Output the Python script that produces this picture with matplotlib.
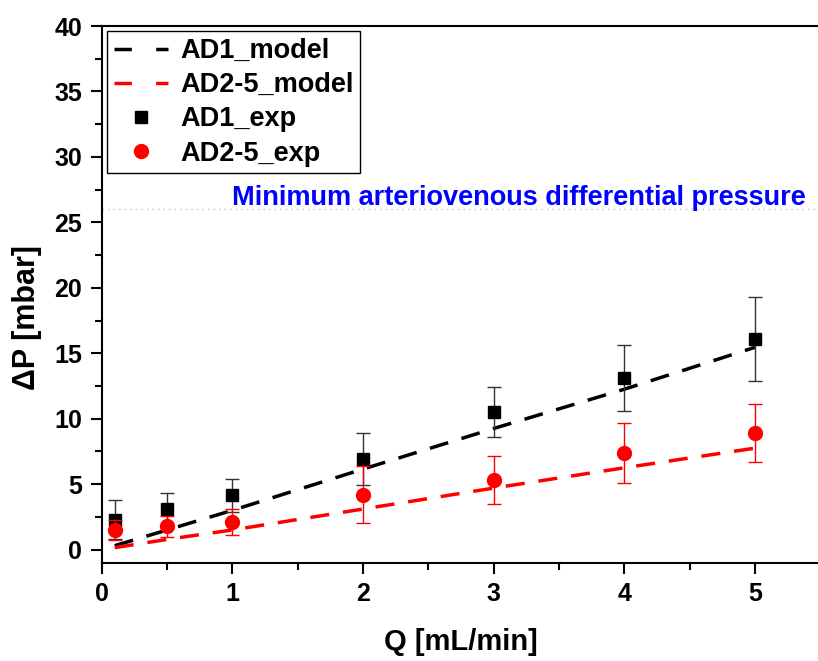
"""AD1 / AD2-5 压降 vs 流量：模型虚线 + 实验点（误差棒）。"""
import numpy as np
import matplotlib
matplotlib.use("Agg")
import matplotlib.pyplot as plt
from matplotlib.ticker import MultipleLocator
from matplotlib.lines import Line2D

plt.rcParams["font.family"] = ["Liberation Sans", "DejaVu Sans"]
plt.rcParams["font.weight"] = "bold"

# 流量 [mL/min]
Q = [0.1, 0.5, 1, 2, 3, 4, 5]

# 模型
ad1_model = [0.3, 1.5, 3.0, 6.15, 9.25, 12.25, 15.45]
ad25_model = [0.15, 0.78, 1.5, 3.1, 4.7, 6.25, 7.75]

# 实验
ad1_exp = [2.3, 3.1, 4.15, 6.9, 10.5, 13.1, 16.1]
ad1_err = [1.5, 1.2, 1.25, 2.0, 1.9, 2.5, 3.2]
ad25_exp = [1.5, 1.8, 2.1, 4.2, 5.3, 7.4, 8.9]
ad25_err = [0.8, 0.8, 1.0, 2.2, 1.85, 2.3, 2.2]

MIN_AV = 26.0   # 最小动静脉压差 [mbar]

W, H = 818, 661
fig = plt.figure(figsize=(W / 100, H / 100), dpi=100)
ax = fig.add_axes([101.7 / W, 1 - 562.7 / H, 718.5 / W, 536.7 / H])

dash = (0, (5.5, 4))
ax.plot(Q, ad1_model, color="black", lw=2.5, linestyle=dash, zorder=3)
ax.plot(Q, ad25_model, color="red", lw=2.5, linestyle=dash, zorder=3)
ax.errorbar(Q, ad1_exp, yerr=ad1_err, fmt="s", color="black", ms=9,
            ecolor="#333333", elinewidth=1, capsize=5, capthick=1, zorder=4)
ax.errorbar(Q, ad25_exp, yerr=ad25_err, fmt="o", color="red", ms=10,
            ecolor="red", elinewidth=1, capsize=5, capthick=1, zorder=5)

ax.axhline(MIN_AV, color="#b8b8f0", lw=1, linestyle=(0, (1, 3)), zorder=1)
ax.text(0.995, MIN_AV + 0.33, "Minimum arteriovenous differential pressure",
        color="blue", fontsize=19.5, fontweight="bold", va="baseline", ha="left")

ax.set_xlim(0, 5.5)
ax.set_ylim(-1, 40)
ax.xaxis.set_major_locator(MultipleLocator(1))
ax.xaxis.set_minor_locator(MultipleLocator(0.5))
ax.yaxis.set_major_locator(MultipleLocator(5))
ax.yaxis.set_minor_locator(MultipleLocator(2.5))
ax.tick_params(which="major", direction="out", length=8, width=1.5, labelsize=18, pad=6)
ax.tick_params(which="minor", direction="out", length=5, width=1.5)
ax.spines["right"].set_visible(False)
for s in ("left", "bottom", "top"):
    ax.spines[s].set_linewidth(1.5)

ax.set_xlabel("Q [mL/min]", fontsize=21, fontweight="bold", labelpad=16)
ax.set_ylabel("ΔP [mbar]", fontsize=22, fontweight="bold")
ax.yaxis.set_label_coords(-0.083, 0.456)

# 图例句柄单独画：只显示 marker，不带误差棒
leg_dash = (0, (5, 7))
handles = [
    Line2D([], [], color="black", lw=2.5, linestyle=leg_dash),
    Line2D([], [], color="red", lw=2.5, linestyle=leg_dash),
    Line2D([], [], color="black", marker="s", ms=9, linestyle="none"),
    Line2D([], [], color="red", marker="o", ms=10, linestyle="none"),
]
labels = ["AD1_model", "AD2-5_model", "AD1_exp", "AD2-5_exp"]
leg = ax.legend(handles, labels, loc="upper left", bbox_to_anchor=(0.007, 0.99),
                fontsize=19.5, frameon=True, fancybox=False, edgecolor="black",
                framealpha=1, handlelength=2.0, handletextpad=0.45, borderpad=0.25,
                labelspacing=0.3, borderaxespad=0)
leg.get_frame().set_linewidth(1)

fig.savefig("out.png", dpi=100)
